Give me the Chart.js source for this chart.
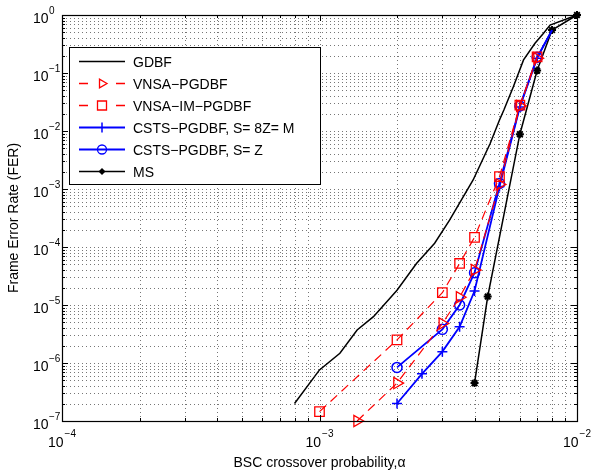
<!DOCTYPE html>
<html><head><meta charset="utf-8">
<script src="https://cdn.jsdelivr.net/npm/chart.js@4/dist/chart.umd.min.js"></script>
<style>html,body{margin:0;padding:0;background:#fff}canvas{display:block}</style>
</head><body>
<canvas id="c" width="593" height="470"></canvas>
<script>
// ---- data ----
const gdbfX = [8e-4, 1e-3, 1.2e-3, 1.4e-3, 1.62e-3, 2e-3, 2.38e-3, 2.8e-3, 3.2e-3, 3.95e-3, 4.6e-3, 5.0e-3, 5.2e-3, 5.66e-3, 6.2e-3, 6.87e-3, 7.4e-3, 7.86e-3, 1e-2];
const gdbfY = [2e-7, 7.6e-7, 1.47e-6, 3.7e-6, 6.3e-6, 1.8e-5, 5.2e-5, 1.16e-4, 2.9e-4, 1.43e-3, 6.1e-3, 1.55e-2, 2.3e-2, 5.8e-2, 0.168, 0.325, 0.48, 0.67, 1];

const vnsaX = [1.4e-3, 2e-3, 3e-3, 3.5e-3, 4e-3, 5e-3, 6e-3, 7e-3];
const vnsaY = [1.0e-7, 4.5e-7, 4.8e-6, 1.36e-5, 4e-5, 1.2e-3, 2.7e-2, 0.18];

const vnsaImX = [1e-3, 2e-3, 3e-3, 3.5e-3, 4e-3, 5e-3, 6e-3, 7e-3];
const vnsaImY = [1.45e-7, 2.5e-6, 1.63e-5, 5.2e-5, 1.47e-4, 1.63e-3, 2.8e-2, 0.19];

const csts8zX = [2e-3, 2.5e-3, 3e-3, 3.5e-3, 4e-3, 5e-3, 6e-3, 7e-3, 8e-3];
const csts8zY = [2e-7, 6.5e-7, 1.57e-6, 4.2e-6, 1.74e-5, 1.1e-3, 2.6e-2, 0.18, 0.55];

const cstsZX = [2e-3, 3e-3, 3.5e-3, 4e-3, 5e-3, 6e-3, 7e-3, 8e-3];
const cstsZY = [8.4e-7, 3.8e-6, 1e-5, 3.6e-5, 1.25e-3, 2.7e-2, 0.186, 0.55];

const msX = [4e-3, 4.5e-3, 6e-3, 7e-3, 8e-3, 1e-2];
const msY = [4.5e-7, 1.4e-5, 8.8e-3, 0.11, 0.55, 1];

const seriesNames = ['GDBF', 'VNSA\u2212PGDBF', 'VNSA\u2212IM\u2212PGDBF', 'CSTS\u2212PGDBF, S= 8Z= M', 'CSTS\u2212PGDBF, S= Z', 'MS'];

const xMajorTicks = [1e-4, 1e-3, 1e-2];
const xTickExp = ['\u22124', '\u22123', '\u22122'];
const yMajorTicks = [1e-7, 1e-6, 1e-5, 1e-4, 1e-3, 1e-2, 1e-1, 1];
const yTickExp = ['\u22127', '\u22126', '\u22125', '\u22124', '\u22123', '\u22122', '\u22121', '0'];

const xTitle = 'BSC crossover probability,\u03b1';
const yTitle = 'Frame Error Rate (FER)';

function pts(xs, ys) { return xs.map((x, i) => ({ x: x, y: ys[i] })); }
function minorOf(majors) {
  const out = [];
  for (let i = 0; i < majors.length - 1; i++) for (let m = 2; m <= 9; m++) out.push(majors[i] * m);
  return out;
}

const FONT = '"Liberation Sans", Arial, Helvetica, sans-serif';
const RED = '#ff0000', BLUE = '#0000ff', BLACK = '#000000';
const legendColors = [BLACK, RED, RED, BLUE, BLUE, BLACK];
const legendDashed = [false, true, true, false, false, false];
const legendWidths = [1.5, 1.3, 1.3, 1.8, 1.8, 1.5];

function drawMarker(ctx, style, x, y, r, color) {
  ctx.save();
  ctx.setLineDash([]);
  ctx.strokeStyle = color; ctx.fillStyle = color; ctx.lineWidth = 1.3;
  ctx.beginPath();
  if (style === 'triR') {
    ctx.moveTo(x + r, y); ctx.lineTo(x - r * 0.5, y - r * 0.866); ctx.lineTo(x - r * 0.5, y + r * 0.866); ctx.closePath(); ctx.stroke();
  } else if (style === 'rect') {
    ctx.rect(x - r, y - r, 2 * r, 2 * r); ctx.stroke();
  } else if (style === 'circle') {
    ctx.arc(x, y, r, 0, Math.PI * 2); ctx.stroke();
  } else if (style === 'cross') {
    ctx.lineWidth = 1.5;
    ctx.moveTo(x, y - r); ctx.lineTo(x, y + r); ctx.stroke();
  } else if (style === 'dia') {
    ctx.moveTo(x, y - r); ctx.lineTo(x + r, y); ctx.lineTo(x, y + r); ctx.lineTo(x - r, y); ctx.closePath(); ctx.fill();
  }
  ctx.restore();
}

const axesPlugin = {
  id: 'matlabAxes',
  beforeDatasetsDraw(chart) {
    const ctx = chart.ctx, a = chart.chartArea, xs = chart.scales.x, ys = chart.scales.y;
    ctx.save();
    ctx.strokeStyle = 'rgba(60,60,60,0.7)';
    ctx.lineWidth = 1;
    ctx.setLineDash([1, 3]);
    const xv = xMajorTicks.concat(minorOf(xMajorTicks));
    xv.forEach(v => {
      const px = Math.round(xs.getPixelForValue(v)) + 0.5;
      ctx.beginPath(); ctx.moveTo(px, a.bottom); ctx.lineTo(px, a.top); ctx.stroke();
    });
    const yv = yMajorTicks.concat(minorOf(yMajorTicks));
    yv.forEach(v => {
      const py = Math.round(ys.getPixelForValue(v)) + 0.5;
      ctx.beginPath(); ctx.moveTo(a.left, py); ctx.lineTo(a.right, py); ctx.stroke();
    });
    ctx.restore();
  },
  afterDatasetsDraw(chart) {
    const ctx = chart.ctx, a = chart.chartArea, xs = chart.scales.x, ys = chart.scales.y;
    ctx.save();
    ctx.setLineDash([]);
    ctx.strokeStyle = '#000'; ctx.lineWidth = 1;
    const tick = (v, len, isX) => {
      if (isX) {
        const px = Math.round(xs.getPixelForValue(v)) + 0.5;
        ctx.beginPath(); ctx.moveTo(px, a.bottom); ctx.lineTo(px, a.bottom - len);
        ctx.moveTo(px, a.top); ctx.lineTo(px, a.top + len); ctx.stroke();
      } else {
        const py = Math.round(ys.getPixelForValue(v)) + 0.5;
        ctx.beginPath(); ctx.moveTo(a.left, py); ctx.lineTo(a.left + len, py);
        ctx.moveTo(a.right, py); ctx.lineTo(a.right - len, py); ctx.stroke();
      }
    };
    xMajorTicks.forEach(v => tick(v, 6, true));
    minorOf(xMajorTicks).forEach(v => tick(v, 3, true));
    yMajorTicks.forEach(v => tick(v, 6, false));
    minorOf(yMajorTicks).forEach(v => tick(v, 3, false));
    ctx.lineWidth = 1.2;
    ctx.strokeRect(Math.round(a.left) + 0.5, Math.round(a.top) + 0.5, Math.round(a.right - a.left), Math.round(a.bottom - a.top));

    ctx.fillStyle = '#000';
    ctx.textBaseline = 'alphabetic';
    xMajorTicks.forEach((v, i) => {
      const px = xs.getPixelForValue(v);
      ctx.font = '14px ' + FONT;
      const w1 = ctx.measureText('10').width;
      ctx.font = '10px ' + FONT;
      const w2 = ctx.measureText(xTickExp[i]).width;
      const start = px - (w1 + w2 + 1) / 2;
      ctx.font = '14px ' + FONT; ctx.textAlign = 'left';
      ctx.fillText('10', start, a.bottom + 26);
      ctx.font = '10px ' + FONT;
      ctx.fillText(xTickExp[i], start + w1 + 1, a.bottom + 16);
    });
    yMajorTicks.forEach((v, i) => {
      const py = ys.getPixelForValue(v);
      ctx.font = '10px ' + FONT;
      ctx.textAlign = 'left';
      ctx.fillText(yTickExp[i], 49, py - 1);
      ctx.font = '14px ' + FONT; ctx.textAlign = 'right';
      ctx.fillText('10', 48.5, py + 8);
    });

    ctx.font = '14px ' + FONT;
    ctx.textAlign = 'center';
    ctx.fillText(xTitle, (a.left + a.right) / 2, 467);
    ctx.save();
    ctx.translate(18, (a.top + a.bottom) / 2);
    ctx.rotate(-Math.PI / 2);
    ctx.fillText(yTitle, 0, 0);
    ctx.restore();

    // legend
    const L = 69.5, T = 47.5, R = 320.5, B = 184.5;
    ctx.fillStyle = '#fff';
    ctx.fillRect(L, T, R - L, B - T);
    ctx.strokeStyle = '#000'; ctx.lineWidth = 1;
    ctx.strokeRect(L, T, R - L, B - T);
    const legendMarks = ['none', 'triR', 'rect', 'cross', 'circle', 'dia'];
    const legendR = [0, 5, 4.5, 5, 4.5, 3.5];
    seriesNames.forEach((name, i) => {
      const y = 61.5 + 22 * i;
      const col = legendColors[i];
      ctx.save();
      ctx.setLineDash([]);
      ctx.strokeStyle = col; ctx.lineWidth = legendWidths[i];
      ctx.beginPath();
      if (legendDashed[i]) {
        ctx.moveTo(79, y); ctx.lineTo(88, y);
        ctx.moveTo(116, y); ctx.lineTo(125, y);
      } else {
        ctx.moveTo(79, y); ctx.lineTo(125, y);
      }
      ctx.stroke();
      ctx.restore();
      if (legendMarks[i] !== 'none') drawMarker(ctx, legendMarks[i], 102, y, legendR[i], col);
      ctx.fillStyle = '#000';
      ctx.font = '14px ' + FONT;
      ctx.textAlign = 'left';
      ctx.fillText(name, 133, y + 5);
    });
    ctx.restore();
  }
};

const lastHidden = (r) => (ctx) => (ctx.dataIndex === ctx.dataset.data.length - 1 ? 0 : r);

new Chart(document.getElementById('c'), {
  type: 'line',
  data: {
    datasets: [
      { label: seriesNames[0], data: pts(gdbfX, gdbfY), borderColor: BLACK, borderWidth: 1.5, pointRadius: 0, fill: false, tension: 0 },
      { label: seriesNames[1], data: pts(vnsaX, vnsaY), borderColor: RED, borderWidth: 1.2, borderDash: [9, 6], pointStyle: 'triangle', rotation: 90, pointRadius: 6.5, pointBorderWidth: 1.3, pointBackgroundColor: 'rgba(0,0,0,0)', pointBorderColor: RED, fill: false },
      { label: seriesNames[2], data: pts(vnsaImX, vnsaImY), borderColor: RED, borderWidth: 1.2, borderDash: [9, 6], pointStyle: 'rect', pointRadius: 6.7, pointBorderWidth: 1.3, pointBackgroundColor: 'rgba(0,0,0,0)', pointBorderColor: RED, fill: false },
      { label: seriesNames[3], data: pts(csts8zX, csts8zY), borderColor: BLUE, borderWidth: 1.8, pointStyle: 'cross', pointRadius: lastHidden(5), pointBorderWidth: 1.5, pointBackgroundColor: 'rgba(0,0,0,0)', pointBorderColor: BLUE, fill: false },
      { label: seriesNames[4], data: pts(cstsZX, cstsZY), borderColor: BLUE, borderWidth: 1.8, pointStyle: 'circle', pointRadius: lastHidden(5), pointBorderWidth: 1.5, pointBackgroundColor: 'rgba(0,0,0,0)', pointBorderColor: BLUE, fill: false },
      { label: seriesNames[5], data: pts(msX, msY), borderColor: BLACK, borderWidth: 1.5, pointStyle: 'star', pointRadius: 4, pointBorderWidth: 2, pointBackgroundColor: BLACK, pointBorderColor: BLACK, fill: false }
    ]
  },
  options: {
    responsive: false,
    animation: false,
    events: [],
    clip: false,
    layout: { padding: { left: 62, top: 15, right: 16, bottom: 49 } },
    elements: { line: { tension: 0 }, point: { hoverRadius: 0 } },
    scales: {
      x: { type: 'logarithmic', min: 1e-4, max: 1e-2, display: false },
      y: { type: 'logarithmic', min: 1e-7, max: 1, display: false }
    },
    plugins: { legend: { display: false }, tooltip: { enabled: false } }
  },
  plugins: [axesPlugin]
});
</script>
</body></html>
